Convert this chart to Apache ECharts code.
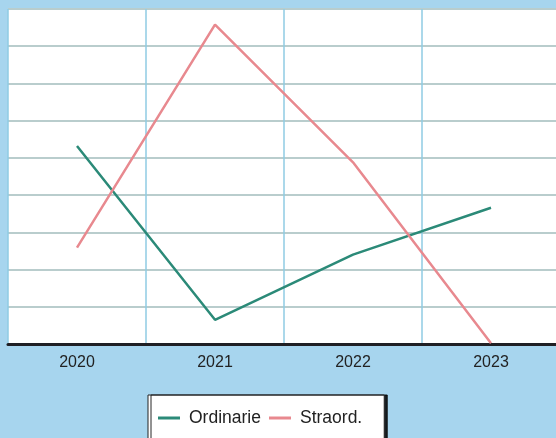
<!DOCTYPE html>
<html>
<head>
<meta charset="utf-8">
<script src="https://cdn.jsdelivr.net/npm/echarts@6/dist/echarts.min.js"></script>
<style>
html,body{margin:0;padding:0;background:#a7d5ee;overflow:hidden;width:556px;height:438px;}
#c{width:560px;height:438px;}
</style>
</head>
<body>
<div id="c"></div>
<script>
var categories = ['2020', '2021', '2022', '2023'];
var ordinarie = [5.32, 0.65, 2.4, 3.66];
var straord = [2.59, 8.58, 4.88, 0.02];
var seriesNames = ['Ordinarie', 'Straord.'];

var chart = echarts.init(document.getElementById('c'));
chart.setOption({
  backgroundColor: '#a7d5ee',
  animation: false,
  grid: {
    show: true, backgroundColor: '#ffffff', borderWidth: 0,
    left: 8, top: 9, right: 0, height: 335
  },
  xAxis: {
    type: 'category',
    data: categories,
    boundaryGap: true,
    axisLine: { lineStyle: { color: '#1f1f24', width: 3 } },
    axisTick: { show: false },
    axisLabel: { color: '#222222', fontSize: 16, fontFamily: 'Liberation Sans, Arial, sans-serif', margin: 11 },
    splitLine: { show: true, lineStyle: { color: '#8fcbe3', width: 1.5 } }
  },
  yAxis: {
    type: 'value',
    min: 0, max: 9, interval: 1,
    axisLine: { show: false },
    axisTick: { show: false },
    axisLabel: { show: false },
    splitLine: { show: true, lineStyle: { color: '#b9cdcd', width: 2 } }
  },
  legend: {
    left: 148, top: 395,
    icon: 'rect',
    itemWidth: 22, itemHeight: 3, itemGap: 8,
    padding: [14, 22, 30, 10],
    backgroundColor: '#ffffff',
    borderColor: '#222222', borderWidth: 1,
    shadowColor: 'rgba(0,0,0,0.85)', shadowOffsetX: 3, shadowOffsetY: 0, shadowBlur: 0,
    textStyle: { color: '#222222', fontSize: 17.5, fontFamily: 'Liberation Sans, Arial, sans-serif', padding: [0, 0, 0, 4] },
    data: seriesNames
  },
  series: [
    {
      name: seriesNames[0], type: 'line', data: ordinarie, symbol: 'none',
      lineStyle: { color: '#2b8a78', width: 2.5 }, itemStyle: { color: '#2b8a78' }
    },
    {
      name: seriesNames[1], type: 'line', data: straord, symbol: 'none',
      lineStyle: { color: '#e8898f', width: 2.5 }, itemStyle: { color: '#e8898f' }
    }
  ]
});
</script>
</body>
</html>
